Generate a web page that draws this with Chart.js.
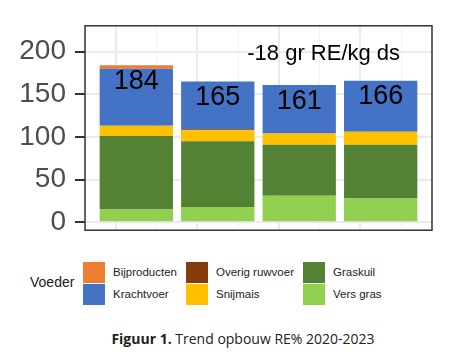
<!DOCTYPE html>
<html>
<head>
<meta charset="utf-8">
<script src="https://cdn.jsdelivr.net/npm/chart.js@4.4.0/dist/chart.umd.min.js"></script>
<style>
  html, body { margin: 0; padding: 0; background: #fff; }
  #wrap { position: relative; width: 460px; height: 362px; overflow: hidden; }
  #c { position: absolute; left: 0; top: 0; }
  #legTitle { position: absolute; left: 30px; top: 274px; font: 14px "Liberation Sans", Arial, sans-serif; color: #1a1a1a; }
  #legend { position: absolute; left: 83px; top: 261px; display: grid;
            grid-template-columns: 103px 117px auto; grid-auto-flow: column; grid-template-rows: 22px 22px; }
  .item { display: flex; align-items: center; height: 22px; }
  .sw { width: 22px; height: 21px; margin-right: 8px; }
  .lbl { font: 11.5px "Liberation Sans", Arial, sans-serif; color: #222; white-space: nowrap; }
  #caption { position: absolute; left: 0; width: 486px; top: 329px; text-align: center;
             font: 14px "Open Sans", sans-serif; color: #222; }
</style>
</head>
<body>
<div id="wrap">
  <canvas id="c" width="460" height="256"></canvas>
  <div id="legTitle">Voeder</div>
  <div id="legend"></div>
  <div id="caption"><b>Figuur 1.</b> Trend opbouw RE% 2020-2023</div>
</div>
<script>
// ---- data ----
const categories = [1, 2, 3, 4];               // four years, 2020-2023
const versGras     = [15, 18, 31, 28];
const graskuil     = [86, 77, 60, 63];
const snijmais     = [12, 13, 13, 15];
const overigRuwvoer= [0, 1, 0, 0];
const krachtvoer   = [67, 56, 57, 60];
const bijproducten = [4, 0, 0, 0];
const totals       = [184, 165, 161, 166];
const yTicks = [0, 50, 100, 150, 200];
const annotationText = "-18 gr RE/kg ds";

// legend order (column-wise, alphabetical like the original)
const legendNames  = ["Bijproducten", "Krachtvoer", "Overig ruwvoer", "Snijmais", "Graskuil", "Vers gras"];
const legendColors = ["#ED7D31", "#4472C4", "#843C0C", "#FFC000", "#548235", "#92D050"];

// stacking order bottom -> top
const stack = [
  { name: "Vers gras", data: versGras, color: "#92D050" },
  { name: "Graskuil", data: graskuil, color: "#548235" },
  { name: "Snijmais", data: snijmais, color: "#FFC000" },
  { name: "Overig ruwvoer", data: overigRuwvoer, color: "#843C0C" },
  { name: "Krachtvoer", data: krachtvoer, color: "#4472C4" },
  { name: "Bijproducten", data: bijproducten, color: "#ED7D31" }
];

// build legend
const leg = document.getElementById('legend');
legendNames.forEach((n, i) => {
  const it = document.createElement('div'); it.className = 'item';
  const sw = document.createElement('div'); sw.className = 'sw'; sw.style.background = legendColors[i];
  const lb = document.createElement('div'); lb.className = 'lbl'; lb.textContent = n;
  it.appendChild(sw); it.appendChild(lb); leg.appendChild(it);
});

// the x ruler's minimum spacing is the half-unit grid step, so 1.8 = 0.9 of a category
const datasets = stack.map(s => ({
  label: s.name,
  data: categories.map((x, i) => ({ x: x, y: s.data[i] })),
  backgroundColor: s.color,
  borderWidth: 0,
  barPercentage: 1.8,
  categoryPercentage: 1.0
}));

const extras = {
  id: 'extras',
  afterDatasetsDraw(chart) {
    const { ctx, chartArea: a, scales: { x, y } } = chart;
    ctx.save();
    ctx.fillStyle = '#000';
    ctx.font = '27px "Liberation Sans", Arial, sans-serif';
    ctx.textAlign = 'center';
    ctx.textBaseline = 'middle';
    categories.forEach((c, i) => {
      ctx.fillText(String(totals[i]), x.getPixelForValue(c), y.getPixelForValue(totals[i] - 19));
    });
    ctx.font = '22px "Liberation Sans", Arial, sans-serif';
    ctx.fillText(annotationText, x.getPixelForValue(3.3), y.getPixelForValue(197));
    ctx.strokeStyle = '#333';
    ctx.lineWidth = 1.5;
    ctx.strokeRect(a.left, a.top, a.right - a.left, a.bottom - a.top);
    ctx.restore();
  }
};

new Chart(document.getElementById('c'), {
  type: 'bar',
  data: { datasets },
  options: {
    responsive: false,
    animation: false,
    layout: { padding: { left: 0, top: 23, right: 28, bottom: 0 } },
    plugins: { legend: { display: false }, tooltip: { enabled: false } },
    scales: {
      x: {
        type: 'linear', stacked: true, min: 0.37, max: 4.63, offset: false,
        afterFit(s) { s.height = 0; },
        afterBuildTicks(s) { s.ticks = [0.5,1,1.5,2,2.5,3,3.5,4,4.5].map(v => ({ value: v })); },
        ticks: { display: false },
        border: { display: false },
        grid: {
          drawTicks: false,
          color: c => (c.tick && Number.isInteger(c.tick.value)) ? '#ebebeb' : '#f2f2f2',
          lineWidth: c => (c.tick && Number.isInteger(c.tick.value)) ? 2 : 1
        }
      },
      y: {
        stacked: true, min: -9.3, max: 230.3,
        afterFit(s) { s.width = 85; },
        afterBuildTicks(s) { s.ticks = [0,25,50,75,100,125,150,175,200,225].map(v => ({ value: v })); },
        border: { display: false },
        ticks: {
          padding: 9,
          color: '#4d4d4d',
          font: { family: '"Liberation Sans", Arial, sans-serif', size: 28 },
          callback: v => yTicks.includes(v) ? String(v) : ''
        },
        grid: {
          tickLength: 10,
          color: c => (c.tick && c.tick.value % 50 === 0) ? '#ebebeb' : '#f2f2f2',
          lineWidth: c => (c.tick && c.tick.value % 50 === 0) ? 2 : 1,
          tickColor: c => (c.tick && c.tick.value % 50 === 0) ? '#333' : 'rgba(0,0,0,0)',
          tickWidth: 2
        }
      }
    }
  },
  plugins: [extras]
});
</script>
</body>
</html>
